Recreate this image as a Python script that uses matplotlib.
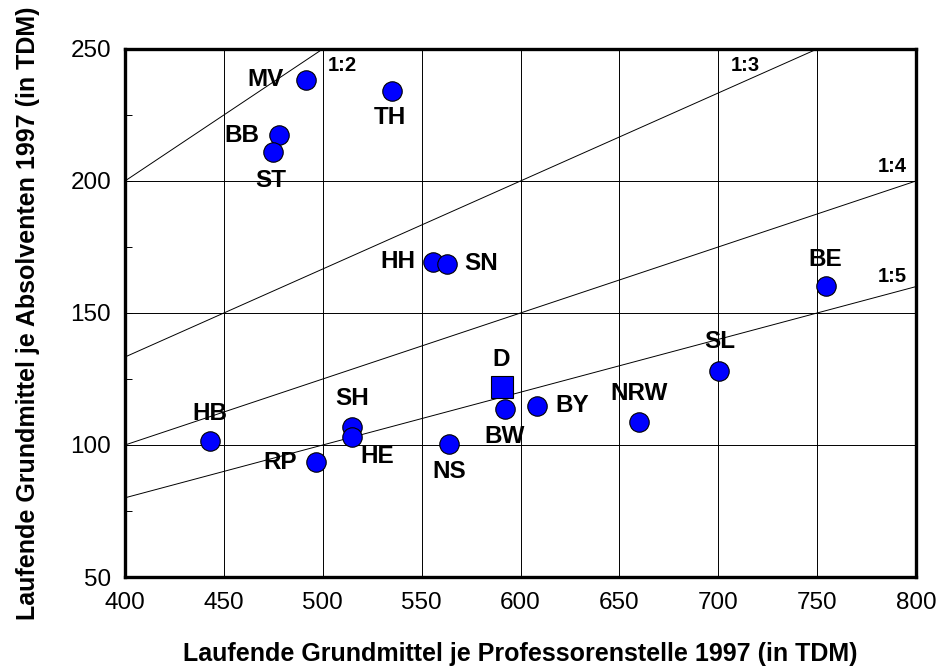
import numpy as np
import matplotlib
matplotlib.use("Agg")
import matplotlib.pyplot as plt
from matplotlib.ticker import MultipleLocator

plt.rcParams['font.family'] = ['Liberation Sans', 'DejaVu Sans']

# Länder: Grundmittel je Professorenstelle (x) und je Absolvent (y), in TDM
laender = ['MV', 'TH', 'BB', 'ST', 'HH', 'SN', 'BE', 'HB', 'RP', 'SH',
           'HE', 'NS', 'BW', 'BY', 'NRW', 'SL']
x_prof = [491.4, 534.8, 478.0, 474.7, 555.9, 562.6, 754.4, 443.0, 496.6, 514.9,
          514.9, 563.8, 592.1, 608.5, 660.0, 700.6]
y_absol = [238.3, 234.1, 217.4, 210.9, 169.4, 168.6, 160.2, 101.6, 93.4, 106.9,
           103.2, 100.4, 113.5, 114.8, 108.6, 128.2]

# Bundesdurchschnitt
d_x = 590.4
d_y = 121.9

# Verhältnislinien 1:n
ratios = [2, 3, 4, 5]
ratio_lbl_x = [509.9, 713.8, 788.0, 788.0]
ratio_lbl_y = [243.9, 243.9, 205.4, 163.8]

# Beschriftungsversatz (pixel)
offsets = {'MV': (-40, 0), 'TH': (-2, -27), 'BB': (-37, 0), 'ST': (-2, -28),
           'HH': (-35, 0), 'SN': (35, 0), 'BE': (-1, 27), 'HB': (0, 27),
           'RP': (-36, 0), 'SH': (0, 28), 'HE': (25, -20), 'NS': (0, -28),
           'BW': (0, -27), 'BY': (35, 0), 'NRW': (0, 29), 'SL': (0, 29)}

fig = plt.figure(figsize=(9.37, 6.70), dpi=100)
ax = fig.add_axes([0.1334, 0.1388, 0.9776 - 0.1334, 0.9269 - 0.1388])

ax.set_xlim(400, 800)
ax.set_ylim(50, 250)
ax.xaxis.set_major_locator(MultipleLocator(50))
ax.yaxis.set_major_locator(MultipleLocator(50))
ax.yaxis.set_minor_locator(MultipleLocator(25))
ax.grid(True, which='major', color='black', linewidth=0.7)
ax.set_axisbelow(True)

xs = np.array([400, 800])
for r in ratios:
    ax.plot(xs, xs / r, color='black', linewidth=0.7, zorder=1)
for r, tx, ty in zip(ratios, ratio_lbl_x, ratio_lbl_y):
    ax.text(tx, ty, '1:%d' % r, fontsize=14.5, fontweight='bold',
            ha='center', va='center')

ax.plot(x_prof, y_absol, linestyle='none', marker='o', markersize=14,
        markerfacecolor='#0000FF', markeredgecolor='black',
        markeredgewidth=0.8, zorder=3)
ax.plot([d_x], [d_y], linestyle='none', marker='s', markersize=15.5,
        markerfacecolor='#0000FF', markeredgecolor='black',
        markeredgewidth=0.8, zorder=3)

for name, px, py in zip(laender, x_prof, y_absol):
    ax.annotate(name, (px, py), xytext=offsets[name], textcoords='offset pixels',
                fontsize=17.5, fontweight='bold', ha='center', va='center',
                zorder=4)
ax.annotate('D', (d_x, d_y), xytext=(0, 28), textcoords='offset pixels',
            fontsize=17.5, fontweight='bold', ha='center', va='center', zorder=4)

for s in ax.spines.values():
    s.set_linewidth(2.4)
    s.set_color('black')

ax.tick_params(axis='both', which='major', direction='in', length=5,
               width=0.7, labelsize=17.5, pad=10)
ax.tick_params(axis='x', which='major', pad=11, length=0)
ax.tick_params(axis='y', which='minor', direction='in', length=5, width=0.7)

ax.set_xlabel('Laufende Grundmittel je Professorenstelle 1997 (in TDM)',
              fontsize=18, fontweight='bold', labelpad=20)
ax.set_ylabel('Laufende Grundmittel je Absolventen 1997 (in TDM)',
              fontsize=18, fontweight='bold', labelpad=22)

fig.savefig('out.png', dpi=100)
